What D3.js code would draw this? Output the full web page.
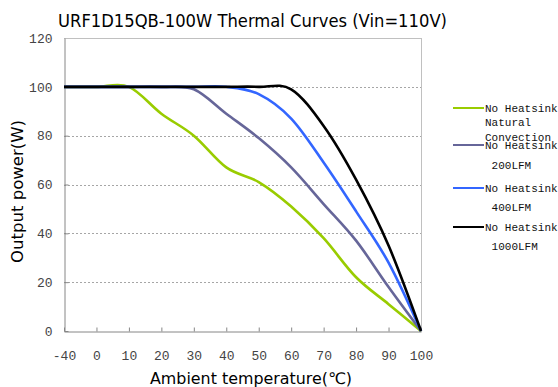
<!DOCTYPE html>
<html>
<head>
<meta charset="utf-8">
<script src="https://cdn.jsdelivr.net/npm/d3@7"></script>
<style>
  html, body { margin: 0; padding: 0; background: #fff; }
  svg { display: block; }
</style>
</head>
<body>
<div id="chart"></div>
<script>
// ambient temperature categories (the x axis is a category axis)
var categories = ["-40", "0", "10", "20", "30", "40", "50", "60", "70", "80", "90", "100"];

// output power (W)
var naturalConvection = [100, 100, 100, 89, 80, 67, 61, 51, 38, 22, 11, 0];
var lfm200  = [100, 100, 100, 100, 99, 89, 79, 67, 52, 37, 18, 0];
var lfm400  = [100, 100, 100, 100, 100, 100, 97, 87, 69, 49, 28, 0];
var lfm1000 = [100, 100, 100, 100, 100, 100, 100, 99, 84, 62, 35, 0];

var yTicks = [0, 20, 40, 60, 80, 100, 120];

var seriesNames = [
	["No Heatsink", "Natural", "Convection"],
	["No Heatsink", " 200LFM"],
	["No Heatsink", " 400LFM"],
	["No Heatsink", " 1000LFM"]
];
var seriesColors = ["#99cc00", "#666699", "#3366ff", "#000000"];

var series = [naturalConvection, lfm200, lfm400, lfm1000];

var width = 558, height = 387;
var plot = {left: 64, right: 421, top: 38, bottom: 331};

var svg = d3.select("#chart").append("svg")
	.attr("width", width)
	.attr("height", height);

var x = d3.scalePoint()
	.domain(categories)
	.range([plot.left, plot.right])
	.padding(0);

var y = d3.scaleLinear()
	.domain([0, 120])
	.range([plot.bottom, plot.top]);

/*
 * gridlines and frame
 */
svg.append("g").selectAll("line")
	.data(yTicks.filter(function(d) { return d > 0 && d < 120; }))
	.enter().append("line")
		.attr("x1", plot.left)
		.attr("x2", plot.right)
		.attr("y1", function(d) { return Math.round(y(d)) + 0.5; })
		.attr("y2", function(d) { return Math.round(y(d)) + 0.5; })
		.attr("stroke", "#a6a6a6")
		.attr("stroke-dasharray", "2,2");

svg.append("line")
	.attr("x1", plot.left).attr("x2", plot.right)
	.attr("y1", plot.top + 0.5).attr("y2", plot.top + 0.5)
	.attr("stroke", "#c0c0c0");
svg.append("line")
	.attr("x1", plot.right + 0.5).attr("x2", plot.right + 0.5)
	.attr("y1", plot.top).attr("y2", plot.bottom)
	.attr("stroke", "#c0c0c0");

/*
 * axes
 */
var xAxis = svg.append("g")
	.attr("transform", "translate(0," + (plot.bottom + 0.5) + ")")
	.call(d3.axisBottom(x).tickSizeInner(-4).tickSizeOuter(0).tickPadding(19));

var yAxis = svg.append("g")
	.attr("transform", "translate(" + (plot.left + 0.5) + ",0)")
	.call(d3.axisLeft(y).tickValues(yTicks).tickSizeInner(-4).tickSizeOuter(0).tickPadding(12));

[xAxis, yAxis].forEach(function(a) {
	a.select(".domain").attr("stroke", "#868686");
	a.selectAll(".tick line").attr("stroke", "#868686");
	a.selectAll(".tick text")
		.attr("fill", "#444")
		.style("font-family", "'Liberation Mono', 'DejaVu Sans Mono', monospace")
		.style("font-size", "13px");
});
yAxis.selectAll(".tick").filter(function(d) { return d == 120; }).select("line").remove();

/*
 * curves
 */
var line = d3.line()
	.x(function(d, i) { return x(categories[i]); })
	.y(function(d) { return y(d); })
	.curve(d3.curveCardinal.tension(0));

svg.append("g").selectAll("path")
	.data(series)
	.enter().append("path")
		.attr("d", line)
		.attr("fill", "none")
		.attr("stroke", function(d, i) { return seriesColors[i]; })
		.attr("stroke-width", 2.6)
		.attr("stroke-linejoin", "round");

/*
 * legend
 */
var legendTop = [108, 145, 188, 227];
var legendGap = [14.5, 20, 19.5, 19.5];

var legend = svg.append("g").selectAll("g")
	.data(seriesNames)
	.enter().append("g")
		.attr("transform", function(d, i) { return "translate(0," + legendTop[i] + ")"; });

legend.append("line")
	.attr("x1", 453).attr("x2", 484)
	.attr("y1", 0).attr("y2", 0)
	.attr("stroke", function(d, i) { return seriesColors[i]; })
	.attr("stroke-width", 2);

legend.each(function(names, i) {
	d3.select(this).selectAll("text")
		.data(names)
		.enter().append("text")
			.attr("x", 485)
			.attr("y", function(d, j) { return j * legendGap[i]; })
			.attr("dy", "0.33em")
			.attr("fill", "#111")
			.style("font-family", "'Liberation Mono', 'DejaVu Sans Mono', monospace")
			.style("font-size", "11px")
			.style("white-space", "pre")
			.text(function(d) { return d; });
});

/*
 * titles
 */
svg.append("text")
	.attr("x", 252.5)
	.attr("y", 27)
	.attr("text-anchor", "middle")
	.attr("textLength", 389)
	.attr("lengthAdjust", "spacingAndGlyphs")
	.attr("fill", "#000")
	.style("font-family", "'DejaVu Sans', 'Noto Sans', sans-serif")
	.style("font-size", "18px")
	.text("URF1D15QB-100W Thermal Curves (Vin=110V)");

svg.append("text")
	.attr("transform", "translate(23,191.5) rotate(-90)")
	.attr("text-anchor", "middle")
	.attr("textLength", 143)
	.attr("lengthAdjust", "spacingAndGlyphs")
	.attr("fill", "#000")
	.style("font-family", "'DejaVu Sans', 'Noto Sans', sans-serif")
	.style("font-size", "16px")
	.text("Output power(W)");

svg.append("text")
	.attr("x", 251)
	.attr("y", 384)
	.attr("text-anchor", "middle")
	.attr("textLength", 202)
	.attr("lengthAdjust", "spacingAndGlyphs")
	.attr("fill", "#000")
	.style("font-family", "'DejaVu Sans', 'Noto Sans', sans-serif")
	.style("font-size", "16px")
	.text("Ambient temperature(℃)");
</script>
</body>
</html>
